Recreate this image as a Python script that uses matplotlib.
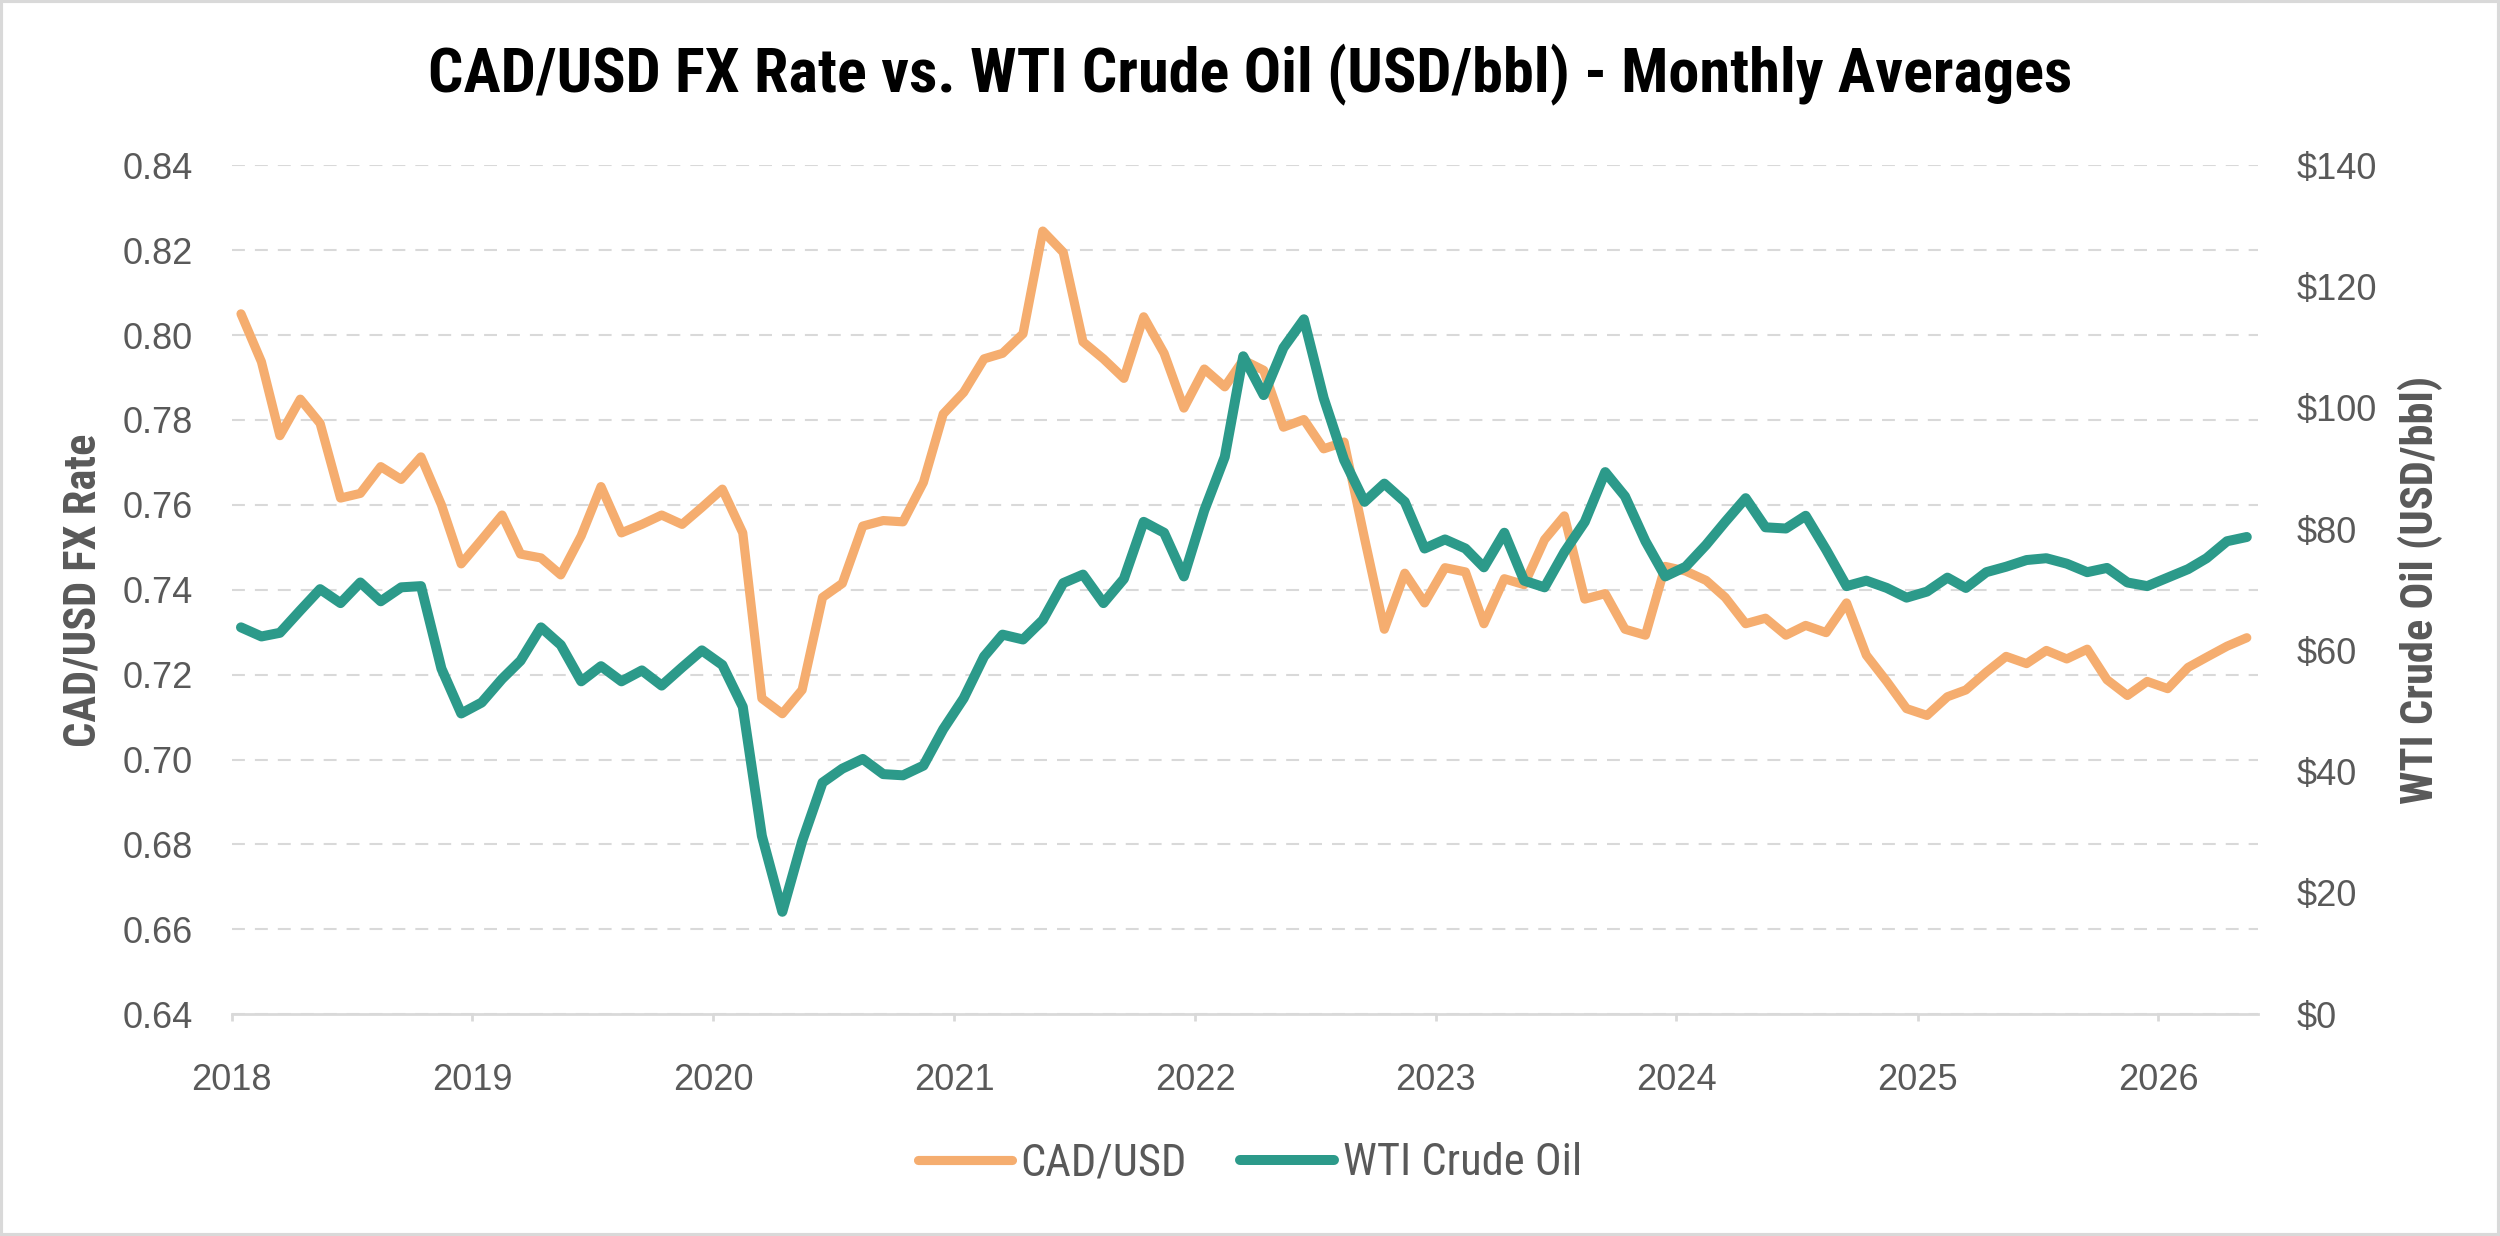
import numpy as np
import pandas as pd
import matplotlib
matplotlib.use("Agg")
import matplotlib.pyplot as plt
import matplotlib.dates as mdates
from matplotlib import font_manager
from matplotlib.patches import Rectangle
from matplotlib.ticker import FixedLocator, FuncFormatter

# monthly averages, Jan 2018 .. May 2026
cad_usd = [
    0.805, 0.7937, 0.7763, 0.7849, 0.7792, 0.7616, 0.7627, 0.769, 0.766, 0.7713, 0.760, 0.7461,
    0.7518, 0.7576, 0.7484, 0.7475, 0.7435, 0.7527, 0.7643, 0.7534, 0.7554, 0.7576, 0.7554, 0.7594,
    0.7637, 0.7534, 0.7144, 0.7108, 0.7164, 0.7382, 0.7415, 0.755, 0.7563, 0.756, 0.7653, 0.7814,
    0.7865, 0.7944, 0.7957, 0.8003, 0.8245, 0.8195, 0.7984, 0.7944, 0.7898, 0.8043, 0.7957, 0.7828,
    0.792, 0.7878, 0.7941, 0.7917, 0.7783, 0.7801, 0.7732, 0.7748, 0.7521, 0.7307, 0.7439, 0.7369,
    0.7452, 0.7442, 0.732, 0.7426, 0.7412, 0.7518, 0.7574, 0.7378, 0.7391, 0.7307, 0.7293, 0.7455,
    0.7444, 0.7422, 0.7382, 0.732, 0.7333, 0.7293, 0.7316, 0.7299, 0.7369, 0.7246, 0.7184, 0.712,
    0.7104, 0.7148, 0.7164, 0.7206, 0.7243, 0.7226, 0.7257, 0.7237, 0.726, 0.7188, 0.7151, 0.7184,
    0.7167, 0.7217, 0.7241, 0.7267, 0.7287,
]
wti = [
    63.8, 62.3, 62.9, 66.6, 70.1, 67.8, 71.2, 68.1, 70.4, 70.6, 57.0, 49.6,
    51.4, 55.3, 58.3, 63.8, 60.9, 54.9, 57.4, 54.9, 56.7, 54.2, 57.2, 60.0,
    57.6, 50.7, 29.4, 16.9, 28.5, 38.2, 40.5, 42.1, 39.6, 39.4, 41.0, 47.0,
    52.1, 59.0, 62.6, 61.8, 65.0, 71.1, 72.5, 67.8, 71.8, 81.2, 79.4, 72.2,
    83.1, 91.9, 108.5, 102.1, 109.9, 114.6, 101.6, 91.4, 84.5, 87.5, 84.5, 76.8,
    78.3, 76.8, 73.7, 79.4, 71.5, 70.4, 76.2, 81.2, 89.4, 85.4, 78.0, 72.2,
    73.8, 77.4, 81.2, 85.1, 80.3, 80.1, 82.2, 76.6, 70.6, 71.5, 70.3, 68.7,
    69.7, 72.0, 70.3, 72.9, 73.8, 74.9, 75.2, 74.3, 72.9, 73.6, 71.2, 70.6,
    72.0, 73.4, 75.2, 78.0, 78.7,
]
months = pd.date_range("2018-01-01", periods=len(cad_usd), freq="MS") + pd.Timedelta(days=14)

cad_ticks = [0.64, 0.66, 0.68, 0.70, 0.72, 0.74, 0.76, 0.78, 0.80, 0.82, 0.84]
oil_ticks = [0, 20, 40, 60, 80, 100, 120, 140]

title = "CAD/USD FX Rate vs. WTI Crude Oil (USD/bbl) - Monthly Averages"
series_names = ["CAD/USD", "WTI Crude Oil"]

ORANGE = "#F5AD6F"
GREEN = "#2C9A8A"
GREY = "#595959"
LIGHT = "#D9D9D9"

names = {f.name for f in font_manager.fontManager.ttflist}
narrow = next((n for n in ["Liberation Sans Narrow", "Roboto Condensed", "Open Sans Condensed"]
               if n in names), "Liberation Sans")
plt.rcParams["font.family"] = ["Liberation Sans", "DejaVu Sans"]

fig = plt.figure(figsize=(12.5, 6.18), dpi=200)
ax = fig.add_axes([0.0927, 0.1794, 0.9032 - 0.0927, 0.8663 - 0.1794])

l1, = ax.plot(months, cad_usd, color=ORANGE, lw=3.3, solid_capstyle="round",
              solid_joinstyle="round", label=series_names[0])
ax.set_ylim(0.64, 0.84)
ax.yaxis.set_major_locator(FixedLocator(cad_ticks))
ax.yaxis.set_major_formatter(FuncFormatter(lambda v, p: f"{v:.2f}"))
ax.set_xlim(pd.Timestamp("2018-01-01"), pd.Timestamp("2026-06-01"))
ax.xaxis.set_major_locator(mdates.YearLocator())
ax.xaxis.set_major_formatter(mdates.DateFormatter("%Y"))
ax.grid(axis="y", color=LIGHT, lw=0.75, linestyle=(0, (6.2, 4.8)))
ax.set_axisbelow(True)

ax2 = ax.twinx()
l2, = ax2.plot(months, wti, color=GREEN, lw=3.6, solid_capstyle="round",
               solid_joinstyle="round", label=series_names[1])
ax2.set_ylim(0, 140)
ax2.yaxis.set_major_locator(FixedLocator(oil_ticks))
ax2.yaxis.set_major_formatter(FuncFormatter(lambda v, p: f"${v:.0f}"))

for a in (ax, ax2):
    for s in a.spines.values():
        s.set_visible(False)
ax.spines["bottom"].set_visible(True)
ax.spines["bottom"].set_color(LIGHT)
ax.spines["bottom"].set_linewidth(1.0)

ax.tick_params(axis="y", length=0, pad=14, labelsize=13, labelcolor=GREY)
ax2.tick_params(axis="y", length=0, pad=14, labelsize=13, labelcolor=GREY)
ax.tick_params(axis="x", length=2.5, width=1.0, color=LIGHT, pad=15,
               labelsize=13, labelcolor=GREY)

fig.text(0.5, 0.939, title, ha="center", va="center", fontsize=22.4,
         fontweight="bold", color="black", family=narrow)
fig.text(0.0333, 0.5228, "CAD/USD FX Rate", rotation=90, ha="center", va="center",
         fontsize=16, fontweight="bold", color=GREY, family=narrow)
fig.text(0.968, 0.5228, "WTI Crude Oil (USD/bbl)", rotation=90, ha="center", va="center",
         fontsize=16, fontweight="bold", color=GREY, family=narrow)

fig.legend(handles=[l1, l2], loc="center", bbox_to_anchor=(0.5, 0.059), ncol=2,
           frameon=False, handlelength=2.1, handletextpad=0.2, columnspacing=1.2,
           prop={"family": narrow, "size": 16}, labelcolor=GREY)

fig.patches.append(Rectangle((0, 0), 1, 1, transform=fig.transFigure, fill=False,
                             edgecolor=LIGHT, lw=2.2))

fig.savefig("out.png", dpi=200, facecolor="white")
